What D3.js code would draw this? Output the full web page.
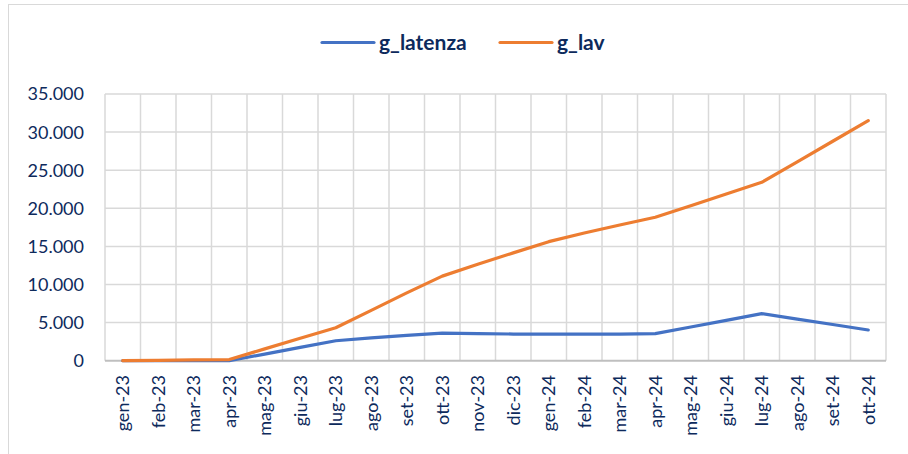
<!DOCTYPE html>
<html>
<head>
<meta charset="utf-8">
<script src="https://cdn.jsdelivr.net/npm/d3@7"></script>
<style>
  html, body { margin: 0; padding: 0; background: #fff; }
  svg { display: block; }
</style>
</head>
<body>
<svg id="chart" width="908" height="454"></svg>
<script>
// Months (Italian abbreviations)
const months = ["gen-23","feb-23","mar-23","apr-23","mag-23","giu-23","lug-23","ago-23","set-23","ott-23","nov-23","dic-23",
                "gen-24","feb-24","mar-24","apr-24","mag-24","giu-24","lug-24","ago-24","set-24","ott-24"];

const gLatenza = [0, 0, 0, 0, 870, 1750, 2620, 3000, 3320, 3630, 3560, 3500,
                  3500, 3500, 3500, 3550, 4420, 5300, 6170, 5450, 4750, 4030];

const gLav = [0, 50, 100, 150, 1550, 2950, 4330, 6600, 8900, 11100, 12650, 14150,
              15620, 16750, 17800, 18820, 20330, 21870, 23410, 26100, 28800, 31500];

const seriesNames = ["g_latenza", "g_lav"];
const yTicks = [0, 5000, 10000, 15000, 20000, 25000, 30000, 35000];

const colors = { g_latenza: "#4472c4", g_lav: "#ed7d31" };
const textColor = "#0d2a5c";
const gridColor = "#d9d9d9";

const svg = d3.select("#chart");
const plot = { left: 105, right: 886, top: 94, bottom: 360.7 };

// chart frame
svg.append("rect")
  .attr("x", 8.5).attr("y", 4.5)
  .attr("width", 940).attr("height", 480)
  .attr("fill", "none").attr("stroke", "#d9d9d9").attr("stroke-width", 1);

const x = d3.scaleBand().domain(months).range([plot.left, plot.right]).padding(0);
const y = d3.scaleLinear().domain([0, 35000]).range([plot.bottom, plot.top]);

const itFormat = d3.formatLocale({ decimal: ",", thousands: ".", grouping: [3], currency: ["€", ""] }).format(",d");

// horizontal gridlines
svg.append("g")
  .selectAll("line").data(yTicks.filter(d => d > 0)).join("line")
  .attr("x1", plot.left).attr("x2", plot.right)
  .attr("y1", d => y(d)).attr("y2", d => y(d))
  .attr("stroke", gridColor).attr("stroke-width", 1.5);

// vertical gridlines between categories
const bounds = months.map(m => x(m)).concat([plot.right]);
svg.append("g")
  .selectAll("line").data(bounds).join("line")
  .attr("x1", d => d).attr("x2", d => d)
  .attr("y1", plot.top).attr("y2", plot.bottom)
  .attr("stroke", gridColor).attr("stroke-width", 1.5);

// x axis baseline
svg.append("line")
  .attr("x1", plot.left).attr("x2", plot.right)
  .attr("y1", plot.bottom).attr("y2", plot.bottom)
  .attr("stroke", "#bfbfbf").attr("stroke-width", 2);

// y tick labels
svg.append("g")
  .selectAll("text").data(yTicks).join("text")
  .attr("x", 84).attr("y", d => y(d))
  .attr("dy", "0.36em")
  .attr("text-anchor", "end")
  .attr("font-family", "Lato, sans-serif")
  .attr("font-size", 18)
  .attr("fill", textColor)
  .text(d => itFormat(d));

// x tick labels (rotated)
svg.append("g")
  .selectAll("text").data(months).join("text")
  .attr("transform", d => `translate(${x(d) + x.bandwidth() / 2},375) rotate(-90)`)
  .attr("dy", "0.36em")
  .attr("text-anchor", "end")
  .attr("font-family", "Lato, sans-serif")
  .attr("font-size", 18)
  .attr("fill", textColor)
  .text(d => d);

// lines
const line = d3.line()
  .x((d, i) => x(months[i]) + x.bandwidth() / 2)
  .y(d => y(d));

const seriesData = { g_latenza: gLatenza, g_lav: gLav };
seriesNames.forEach(name => {
  svg.append("path")
    .datum(seriesData[name])
    .attr("fill", "none")
    .attr("stroke", colors[name])
    .attr("stroke-width", 3.2)
    .attr("stroke-linejoin", "round")
    .attr("stroke-linecap", "round")
    .attr("d", line);
});

// legend
const legendItems = [
  { name: "g_latenza", x0: 322 },
  { name: "g_lav", x0: 500 }
];
const lg = svg.append("g");
legendItems.forEach(it => {
  lg.append("line")
    .attr("x1", it.x0).attr("x2", it.x0 + 52)
    .attr("y1", 42.5).attr("y2", 42.5)
    .attr("stroke", colors[it.name]).attr("stroke-width", 3.2)
    .attr("stroke-linecap", "round");
  lg.append("text")
    .attr("x", it.x0 + 57).attr("y", 42.5)
    .attr("dy", "0.36em")
    .attr("font-family", "Lato, sans-serif")
    .attr("font-weight", "bold")
    .attr("font-size", 21)
    .attr("fill", textColor)
    .text(it.name);
});
</script>
</body>
</html>
